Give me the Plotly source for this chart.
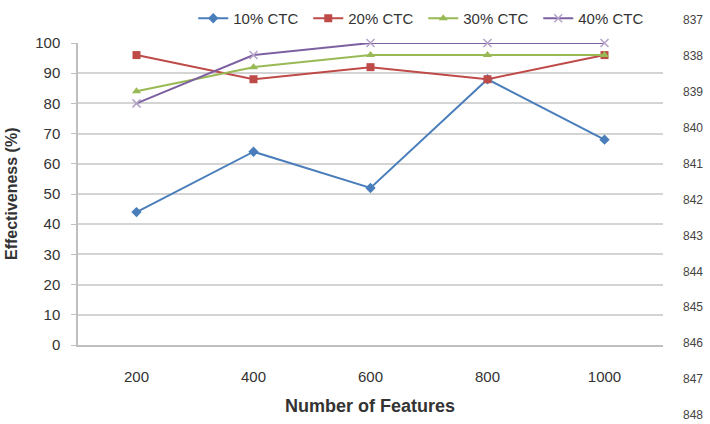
import plotly.graph_objects as go

features = ["200", "400", "600", "800", "1000"]
ctc10 = [44, 64, 52, 88, 68]
ctc20 = [96, 88, 92, 88, 96]
ctc30 = [84, 92, 96, 96, 96]
ctc40 = [80, 96, 100, 100, 100]
series_names = ["10% CTC", "20% CTC", "30% CTC", "40% CTC"]
left_ticks = list(range(0, 101, 10))
right_ticks = list(range(837, 849))

colors = ["#4a7ebb", "#be4b48", "#98b954", "#7d60a0"]
symbols = ["diamond", "square", "triangle-up", "x-thin"]
sizes = [8, 8, 8, 8]

fig = go.Figure()
for name, vals, c, s, sz in zip(series_names, [ctc10, ctc20, ctc30, ctc40], colors, symbols, sizes):
    mk = dict(symbol=s, size=sz, color=c)
    if s == "x-thin":
        mk = dict(symbol=s, size=sz, color="#b3a2c7", line=dict(color="#b3a2c7", width=1.5))
    fig.add_trace(go.Scatter(x=features, y=vals, name=name, mode="lines+markers",
                             line=dict(color=c, width=2), marker=mk, cliponaxis=False))

# hidden trace that carries the secondary (right) axis on its own subplot
fig.add_trace(go.Scatter(x=[0], y=[right_ticks[0]], xaxis="x2", yaxis="y2", mode="markers",
                         marker=dict(opacity=0), showlegend=False, hoverinfo="skip"))

H = 424.0
fig.update_layout(
    template="none",
    width=710, height=424,
    margin=dict(l=78, r=47, t=0, b=0),
    paper_bgcolor="white", plot_bgcolor="rgba(0,0,0,0)",
    font=dict(family="Liberation Sans, Arial, sans-serif", size=15, color="#404040"),
    showlegend=True,
    legend=dict(orientation="h", x=0.197, xanchor="left", y=1 - 2 / H, yanchor="top",
                font=dict(size=15, color="#333333"), entrywidth=70, entrywidthmode="pixels",
                itemwidth=30, bgcolor="rgba(0,0,0,0)"),
    xaxis=dict(type="category", range=[-0.5, 4.5], showgrid=False, showline=True,
               linecolor="#bfbfbf", linewidth=1.5, ticks="", anchor="y", automargin=False,
               ticklabelstandoff=17, tickfont=dict(size=15, color="#333333")),
    yaxis=dict(domain=[(424 - 345) / H, (424 - 43) / H], range=[0, 100], tickvals=left_ticks,
               showgrid=True, gridcolor="#d4d4d4", gridwidth=1.5, showline=True,
               linecolor="#bfbfbf", linewidth=1.5, ticks="outside", ticklen=5,
               tickcolor="#bfbfbf", zeroline=False, automargin=False, ticklabelstandoff=8,
               tickfont=dict(size=15, color="#333333")),
    xaxis2=dict(domain=[0, 1], range=[-1, 1], visible=False, anchor="y2"),
    yaxis2=dict(domain=[(424 - 415) / H, (424 - 20) / H], range=[848, 837], tickvals=right_ticks,
                anchor="x2", side="right", showgrid=False, showline=False, ticks="",
                zeroline=False, ticklabelstandoff=19, automargin=False,
                tickfont=dict(size=12, color="#444444", family="Liberation Sans, Arial")),
    annotations=[
        dict(text="<b>Effectiveness (%)</b>", xref="paper", yref="paper", x=(12 - 78) / 585,
             y=(424 - 194) / H, xanchor="center", yanchor="middle", textangle=-90,
             showarrow=False, font=dict(size=16, color="#333333")),
        dict(text="<b>Number of Features</b>", xref="paper", yref="paper",
             x=(370 - 78) / 585, y=(424 - 406) / H, xanchor="center", yanchor="middle",
             showarrow=False, font=dict(size=18, color="#333333")),
    ],
)

fig.write_html("out.html")
